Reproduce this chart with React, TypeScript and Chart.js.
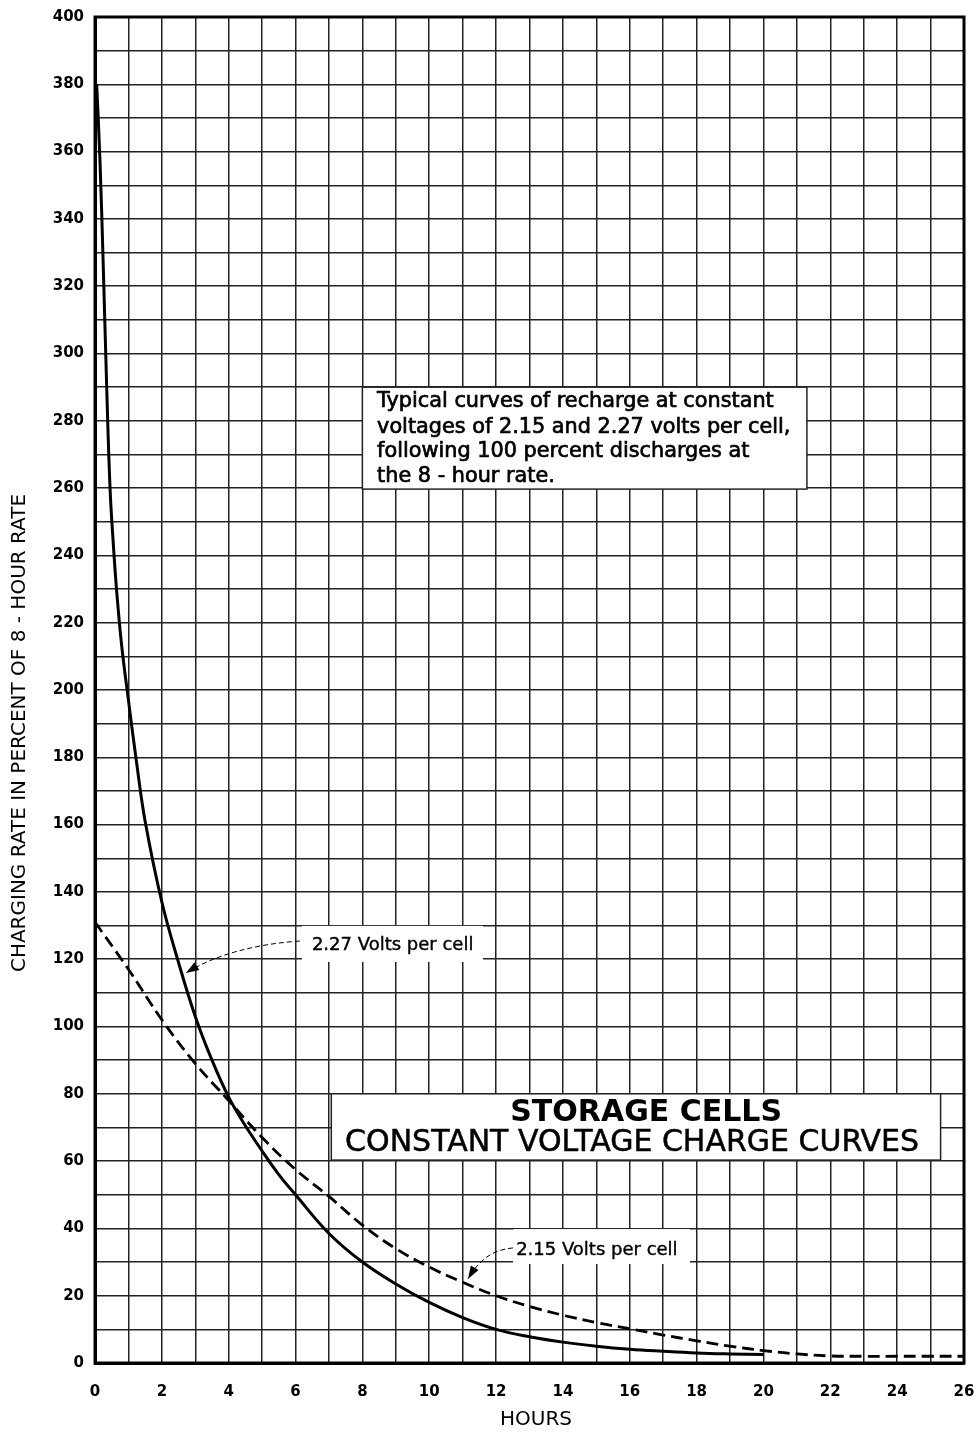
import React, { useEffect, useRef } from "react";
import { Chart, registerables } from "chart.js";

Chart.register(...registerables);

// ---- data ----
const hours227 = [0.05, 0.15, 0.25, 0.35, 0.45, 0.55, 0.66, 0.8, 1.0, 1.25, 1.5, 2.0, 2.5, 3.0, 3.5, 4.0, 4.5, 5, 5.5, 6, 7, 8, 9, 10, 11, 12, 13, 14, 15, 16, 17, 18, 19, 20];
const rate227 = [380, 357, 325, 290, 260, 243, 228, 213, 197, 178, 161, 137, 119, 103, 90, 79, 70.5, 63, 56, 50, 38.5, 30, 23.5, 18, 13.5, 10, 7.8, 6.2, 5, 4.1, 3.5, 3, 2.7, 2.5];

const hours215 = [0, 1, 2, 3, 4, 5, 6, 7, 8, 9, 10, 11, 12, 13, 14, 15, 16, 17, 18, 19, 20, 21, 22, 23, 24, 25, 26];
const rate215 = [131, 117, 102, 89, 78, 67, 57.5, 49.5, 41, 34, 28.5, 24, 20, 16.8, 14.2, 12, 10.2, 8.3, 6.6, 5, 3.7, 2.7, 2.1, 2, 2, 2, 2];

const xTickLabels = [0, 2, 4, 6, 8, 10, 12, 14, 16, 18, 20, 22, 24, 26];
const yTickLabels = [0, 20, 40, 60, 80, 100, 120, 140, 160, 180, 200, 220, 240, 260, 280, 300, 320, 340, 360, 380, 400];

const xTitle = "HOURS";
const yTitle = "CHARGING RATE IN PERCENT OF 8 - HOUR RATE";
const noteLines = [
  "Typical curves of recharge at constant",
  "voltages of 2.15 and 2.27 volts per cell,",
  "following 100 percent discharges at",
  "the 8 - hour rate.",
];
const titleLines = ["STORAGE CELLS", "CONSTANT VOLTAGE CHARGE CURVES"];
const label227 = "2.27 Volts per cell";
const label215 = "2.15 Volts per cell";

const FONT = "'DejaVu Sans', 'Liberation Sans', Arial, sans-serif";

const annotationPlugin = {
  id: "annot",
  beforeDatasetsDraw(chart: any) {
    const ctx = chart.ctx;
    const xs = chart.scales.x;
    const ys = chart.scales.y;
    const X = (t: number) => xs.getPixelForValue(t);
    const Y = (v: number) => ys.getPixelForValue(v);
    ctx.save();

    const box = (t0: number, t1: number, v0: number, v1: number, stroke: boolean) => {
      const x0 = X(t0), x1 = X(t1), y0 = Y(v0), y1 = Y(v1);
      ctx.fillStyle = "#fff";
      ctx.fillRect(x0, y0, x1 - x0, y1 - y0);
      if (stroke) {
        ctx.strokeStyle = "#222";
        ctx.lineWidth = 1.5;
        ctx.strokeRect(x0, y0, x1 - x0, y1 - y0);
      }
    };
    box(8.0, 21.3, 290, 259.7, true);
    box(7.07, 25.3, 80, 60.3, true);
    box(6.19, 11.61, 129.9, 119.2, false);
    box(12.51, 17.8, 39.8, 29.4, false);

    ctx.fillStyle = "#000";
    ctx.strokeStyle = "#000";
    ctx.textBaseline = "middle";
    ctx.textAlign = "left";
    const noteV = [285.6, 277.9, 270.7, 263.3];
    ctx.font = `20.8px ${FONT}`;
    ctx.lineWidth = 0.7;
    noteLines.forEach((line, i) => {
      ctx.fillText(line, X(8.44), Y(noteV[i]));
      ctx.strokeText(line, X(8.44), Y(noteV[i]));
    });

    ctx.textAlign = "center";
    ctx.font = `bold 30px ${FONT}`;
    ctx.fillText(titleLines[0], X(16.49), Y(74.3));
    ctx.font = `30px ${FONT}`;
    ctx.lineWidth = 0.5;
    ctx.fillText(titleLines[1], X(16.07), Y(65.4));
    ctx.strokeText(titleLines[1], X(16.07), Y(65.4));

    ctx.textAlign = "left";
    ctx.font = `18px ${FONT}`;
    ctx.lineWidth = 0.4;
    ctx.fillText(label227, X(6.49), Y(124.2));
    ctx.strokeText(label227, X(6.49), Y(124.2));
    ctx.fillText(label215, X(12.6), Y(33.6));
    ctx.strokeText(label215, X(12.6), Y(33.6));

    const arrow = (p: number[][]) => {
      const pts = p.map(([t, v]) => [X(t), Y(v)]);
      ctx.strokeStyle = "#000";
      ctx.lineWidth = 1;
      ctx.setLineDash([5, 3]);
      ctx.beginPath();
      ctx.moveTo(pts[0][0], pts[0][1]);
      ctx.bezierCurveTo(pts[1][0], pts[1][1], pts[2][0], pts[2][1], pts[3][0], pts[3][1]);
      ctx.stroke();
      ctx.setLineDash([]);
      const [tx, ty] = pts[3];
      const ang = Math.atan2(ty - pts[2][1], tx - pts[2][0]);
      const L = 13, W = 4.5;
      ctx.beginPath();
      ctx.moveTo(tx, ty);
      ctx.lineTo(tx - L * Math.cos(ang) + W * Math.sin(ang), ty - L * Math.sin(ang) - W * Math.cos(ang));
      ctx.lineTo(tx - L * Math.cos(ang) - W * Math.sin(ang), ty - L * Math.sin(ang) + W * Math.cos(ang));
      ctx.closePath();
      ctx.fillStyle = "#000";
      ctx.fill();
    };
    arrow([[6.13, 125.4], [4.79, 124.5], [3.59, 121.3], [2.72, 115.9]]);
    arrow([[12.51, 34.2], [11.82, 33.6], [11.46, 30.0], [11.16, 25.0]]);
    ctx.restore();
  },
  afterDraw(chart: any) {
    const ctx = chart.ctx;
    const a = chart.chartArea;
    ctx.save();
    ctx.strokeStyle = "#000";
    ctx.lineWidth = 3;
    ctx.strokeRect(a.left, a.top, a.right - a.left, a.bottom - a.top);
    ctx.fillStyle = "#000";
    ctx.textAlign = "center";
    ctx.textBaseline = "middle";
    ctx.font = `20px ${FONT}`;
    ctx.fillText(xTitle, 536, 1420);
    ctx.translate(20, 733);
    ctx.rotate(-Math.PI / 2);
    ctx.fillText(yTitle, 0, 0);
    ctx.restore();
  },
};

export default function App() {
  const ref = useRef<HTMLCanvasElement>(null);
  useEffect(() => {
    if (!ref.current) return;
    const gridStyle = { color: "#222", lineWidth: 1.5, drawTicks: false };
    const chart = new Chart(ref.current, {
      type: "line",
      data: {
        datasets: [
          {
            label: label227,
            data: hours227.map((h, i) => ({ x: h, y: rate227[i] })),
            borderColor: "#000",
            borderWidth: 3,
            pointRadius: 0,
            tension: 0.4,
            fill: false,
          },
          {
            label: label215,
            data: hours215.map((h, i) => ({ x: h, y: rate215[i] })),
            borderColor: "#000",
            borderWidth: 2.8,
            borderDash: [12, 6],
            pointRadius: 0,
            tension: 0.4,
            fill: false,
          },
        ],
      },
      options: {
        animation: false,
        responsive: false,
        devicePixelRatio: 1,
        layout: { padding: { top: 17, right: 15, left: 0, bottom: 0 } },
        plugins: { legend: { display: false }, tooltip: { enabled: false } },
        scales: {
          x: {
            type: "linear",
            min: 0,
            max: 26,
            grid: gridStyle,
            border: { display: true, color: "#000", width: 3 },
            ticks: {
              stepSize: 1,
              autoSkip: false,
              maxRotation: 0,
              padding: 20,
              color: "#000",
              font: { family: FONT, size: 15, weight: "bold" },
              callback: (v: any) => (xTickLabels.includes(Number(v)) ? String(v) : ""),
            },
            afterFit: (s: any) => {
              s.height = 70;
              s.paddingLeft = 0;
              s.paddingRight = 0;
            },
          },
          y: {
            type: "linear",
            min: 0,
            max: 400,
            grid: gridStyle,
            border: { display: true, color: "#000", width: 3 },
            ticks: {
              stepSize: 10,
              autoSkip: false,
              padding: 11,
              color: "#000",
              font: { family: FONT, size: 15, weight: "bold" },
              callback: (v: any) => (yTickLabels.includes(Number(v)) ? String(v) : ""),
            },
            afterFit: (s: any) => {
              s.width = 95;
              s.paddingTop = 0;
              s.paddingBottom = 0;
            },
          },
        },
      } as any,
      plugins: [annotationPlugin],
    });
    return () => chart.destroy();
  }, []);
  return (
    <div style={{ position: "absolute", left: 0, top: 0, width: 979, height: 1433, background: "#fff" }}>
      <canvas ref={ref} width={979} height={1433} style={{ width: 979, height: 1433 }} />
    </div>
  );
}
